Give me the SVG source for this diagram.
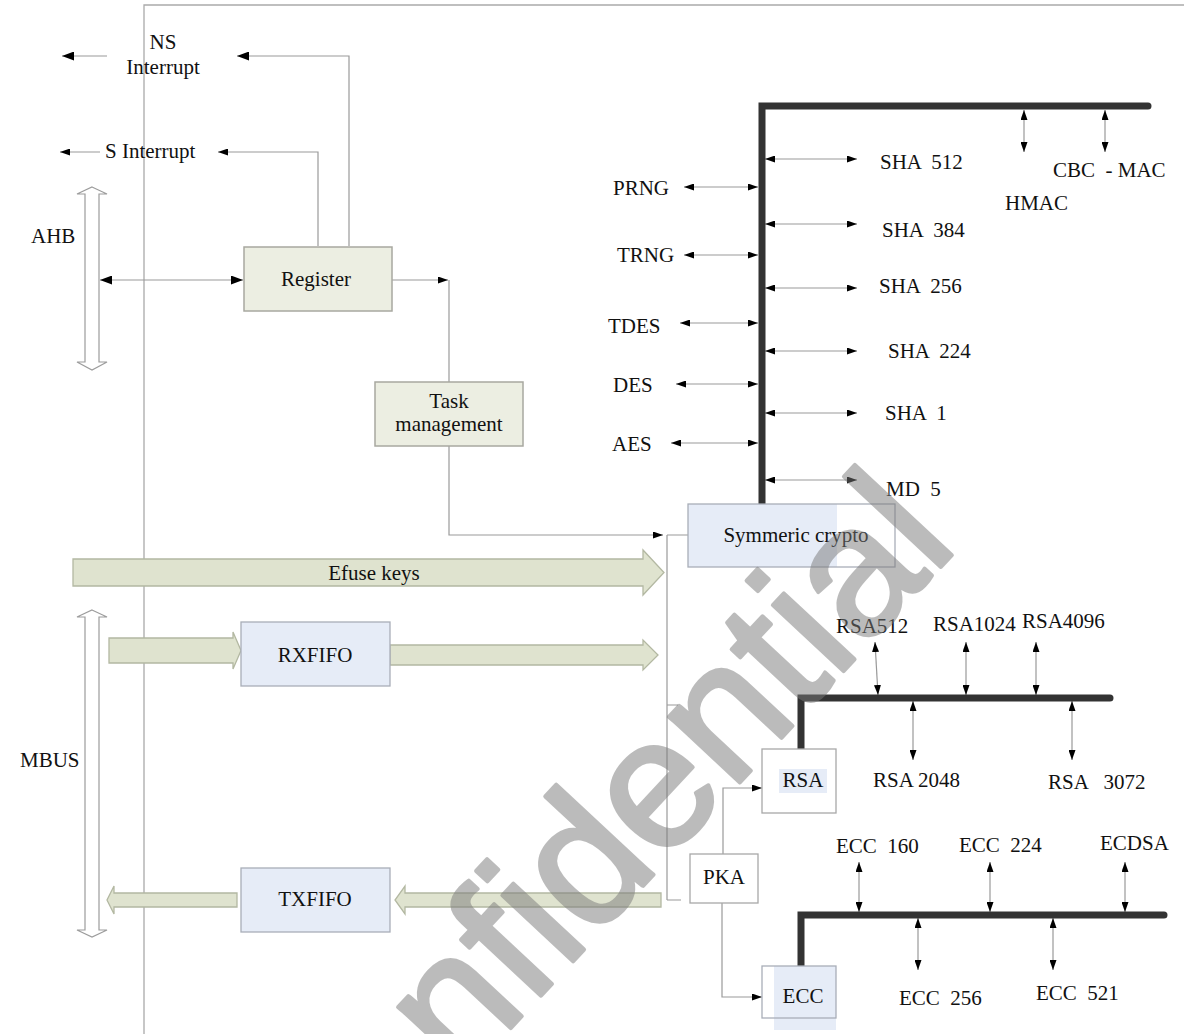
<svg xmlns="http://www.w3.org/2000/svg" width="1184" height="1034" viewBox="0 0 1184 1034">
<style>
text{font-family:"Liberation Serif","Times New Roman",serif;font-size:21px;fill:#111;white-space:pre}
.c{text-anchor:middle}
.ln{fill:none;stroke:#9a9a9a;stroke-width:1.2}
.bi{fill:none;stroke:#999;stroke-width:1.2;marker-start:url(#hs);marker-end:url(#hs)}
.bus{fill:none;stroke:#333;stroke-width:7;stroke-linecap:round;stroke-linejoin:miter}
.beige{fill:#eceee2;stroke:#a8a8a0;stroke-width:1.5}
.blue{fill:#e6ecf7;stroke:none}
.bord{fill:none;stroke:#a9aeb8;stroke-width:1.3}
.wbox{fill:#fff;stroke:#a8a8a8;stroke-width:1.3}
.blk{fill:#dfe3cf;stroke:#b3b8a2;stroke-width:1.3}
.hol{fill:#fff;stroke:#9c9c9c;stroke-width:1.2}
.wm{font-family:"Liberation Sans",Arial,sans-serif;font-size:183px;fill:#7a7a7a;stroke:#7a7a7a;stroke-width:4;stroke-linejoin:round;white-space:normal}
</style>
<defs>
<marker id="ha" viewBox="0 0 12 9" refX="12" refY="4.5" markerWidth="12" markerHeight="9" markerUnits="userSpaceOnUse" orient="auto-start-reverse"><path d="M0,0 L12,4.5 L0,9 z" fill="#000"/></marker>
<marker id="hs" viewBox="0 0 10 7" refX="10" refY="3.5" markerWidth="10" markerHeight="7" markerUnits="userSpaceOnUse" orient="auto-start-reverse"><path d="M0,0 L10,3.5 L0,7 z" fill="#000"/></marker>
</defs>
<rect width="1184" height="1034" fill="#fff"/>

<g id="frame">
<path d="M144,1034 V5 H1184" fill="none" stroke="#aaa" stroke-width="1.3"/>
</g>

<g id="buses-hollow">
<g id="ahb"><path class="hol" d="M92,187 L107,194 L99,194 L99,362 L107,362 L92,370 L77,362 L85,362 L85,194 L77,194 Z"/><text x="31" y="243">AHB</text></g>
<g id="mbus"><path class="hol" d="M92,610 L107,617 L99,617 L99,930 L107,930 L92,937 L77,930 L85,930 L85,617 L77,617 Z"/><text x="20" y="767">MBUS</text></g>
</g>

<g id="connectors">
<line class="ln" x1="107" y1="56" x2="62" y2="56" marker-end="url(#ha)"/>
<polyline class="ln" points="349,246 349,56 237,56" marker-end="url(#ha)"/>
<line class="ln" x1="100" y1="152" x2="60" y2="152" marker-end="url(#hs)"/>
<polyline class="ln" points="318,246 318,152 218,152" marker-end="url(#hs)"/>
<line class="ln" x1="243" y1="280" x2="100" y2="280" marker-start="url(#ha)" marker-end="url(#ha)"/>
<line class="ln" x1="392" y1="280" x2="448" y2="280" marker-end="url(#hs)"/>
<line class="ln" x1="449" y1="280" x2="449" y2="382"/>
<polyline class="ln" points="449,446 449,535 663,535" marker-end="url(#hs)"/>
<path class="ln" d="M667,535 V900 M667,535 H688 M667,705 H678 M667,900 H681"/>
<polyline class="ln" points="723,854 723,788 762,788" marker-end="url(#hs)"/>
<polyline class="ln" points="722,903 722,997 762,997" marker-end="url(#hs)"/>
<line class="bi" x1="684" y1="187" x2="758" y2="187"/>
<line class="bi" x1="684" y1="255" x2="758" y2="255"/>
<line class="bi" x1="680" y1="323" x2="758" y2="323"/>
<line class="bi" x1="676" y1="384" x2="758" y2="384"/>
<line class="bi" x1="671" y1="443" x2="758" y2="443"/>
<line class="bi" x1="765" y1="159" x2="857" y2="159"/>
<line class="bi" x1="765" y1="224" x2="857" y2="224"/>
<line class="bi" x1="765" y1="288" x2="857" y2="288"/>
<line class="bi" x1="765" y1="351" x2="857" y2="351"/>
<line class="bi" x1="765" y1="413" x2="857" y2="413"/>
<line class="bi" x1="765" y1="480" x2="857" y2="480"/>
<line class="bi" x1="1024" y1="110" x2="1024" y2="152"/>
<line class="bi" x1="1105" y1="110" x2="1105" y2="152"/>
<line class="bi" x1="875" y1="642" x2="878" y2="695"/>
<line class="bi" x1="966" y1="642" x2="966" y2="695"/>
<line class="bi" x1="1036" y1="642" x2="1036" y2="695"/>
<line class="bi" x1="913" y1="701" x2="913" y2="760"/>
<line class="bi" x1="1072" y1="701" x2="1072" y2="760"/>
<line class="bi" x1="859" y1="862" x2="859" y2="912"/>
<line class="bi" x1="990" y1="862" x2="990" y2="912"/>
<line class="bi" x1="1125" y1="862" x2="1125" y2="912"/>
<line class="bi" x1="918" y1="918" x2="918" y2="970"/>
<line class="bi" x1="1053" y1="918" x2="1053" y2="970"/>
<path class="bus" d="M762,504 V106 H1148"/>
<path class="bus" d="M801,749 V698 H1110"/>
<path class="bus" d="M801,966 V915 H1164"/>
<path class="blk" d="M73,559 H643 V550 L664,572.5 L643,595 V586 H73 Z"/>
<path class="blk" d="M109,638 H233 V632 L241,650.5 L233,669 V663 H109 Z"/>
<path class="blk" d="M390,645 H643 V640 L658,655 L643,670 V665 H390 Z"/>
<path class="blk" d="M237,893 H114 V886 L107,900 L114,914 V907 H237 Z"/>
<path class="blk" d="M661,893 H405 V886 L395,900 L405,914 V907 H661 Z"/>
</g>

<g id="labels">
<text class="c" x="163" y="49">NS</text>
<text class="c" x="163" y="74">Interrupt</text>
<text x="105" y="158">S Interrupt</text>
<text class="c" x="374" y="580">Efuse keys</text>
<text x="613" y="195">PRNG</text>
<text x="617" y="262">TRNG</text>
<text x="608" y="333">TDES</text>
<text x="613" y="392">DES</text>
<text x="612" y="451">AES</text>
<text x="880" y="169">SHA  512</text>
<text x="882" y="237">SHA  384</text>
<text x="879" y="293">SHA  256</text>
<text x="888" y="358">SHA  224</text>
<text x="885" y="420">SHA  1</text>
<text x="886" y="496">MD  5</text>
<text x="1053" y="177">CBC  - MAC</text>
<text x="1005" y="210">HMAC</text>
<text x="836" y="633">RSA512</text>
<text x="933" y="631">RSA1024</text>
<text x="1022" y="628">RSA4096</text>
<text x="873" y="787">RSA 2048</text>
<text x="1048" y="789">RSA   3072</text>
<text x="836" y="853">ECC  160</text>
<text x="959" y="852">ECC  224</text>
<text x="1100" y="850">ECDSA</text>
<text x="899" y="1005">ECC  256</text>
<text x="1036" y="1000">ECC  521</text>
</g>

<g id="register"><rect class="beige" x="244" y="247" width="148" height="64"/><text class="c" x="316" y="286">Register</text></g>
<g id="task"><rect class="beige" x="375" y="382" width="148" height="64"/><text class="c" x="449" y="408">Task</text><text class="c" x="449" y="431">management</text></g>
<g id="rxfifo"><rect x="241" y="622" width="149" height="64" fill="#e6ecf7" stroke="#a9aeb8" stroke-width="1.3"/><text class="c" x="315" y="662">RXFIFO</text></g>
<g id="txfifo"><rect x="241" y="868" width="149" height="64" fill="#e6ecf7" stroke="#a9aeb8" stroke-width="1.3"/><text class="c" x="315" y="906">TXFIFO</text></g>
<g id="symmetric"><rect class="blue" x="688" y="504" width="149" height="63"/><rect class="bord" x="688" y="504" width="207" height="63"/><text class="c" x="796" y="542">Symmeric crypto</text></g>
<g id="pka"><rect class="wbox" x="690" y="854" width="68" height="49"/><text class="c" x="724" y="884">PKA</text></g>
<g id="rsa"><rect class="wbox" x="762" y="749" width="74" height="64"/><rect class="blue" x="779" y="769" width="48" height="24"/><text class="c" x="803" y="787">RSA</text></g>
<g id="ecc"><rect class="blue" x="774" y="966" width="62" height="64"/><rect class="bord" x="762" y="966" width="74" height="52"/><text class="c" x="803" y="1003">ECC</text></g>

<g id="watermark" opacity="0.5">
<text class="wm" transform="translate(301,1253) rotate(-47)">Confidential</text>
</g>
</svg>
